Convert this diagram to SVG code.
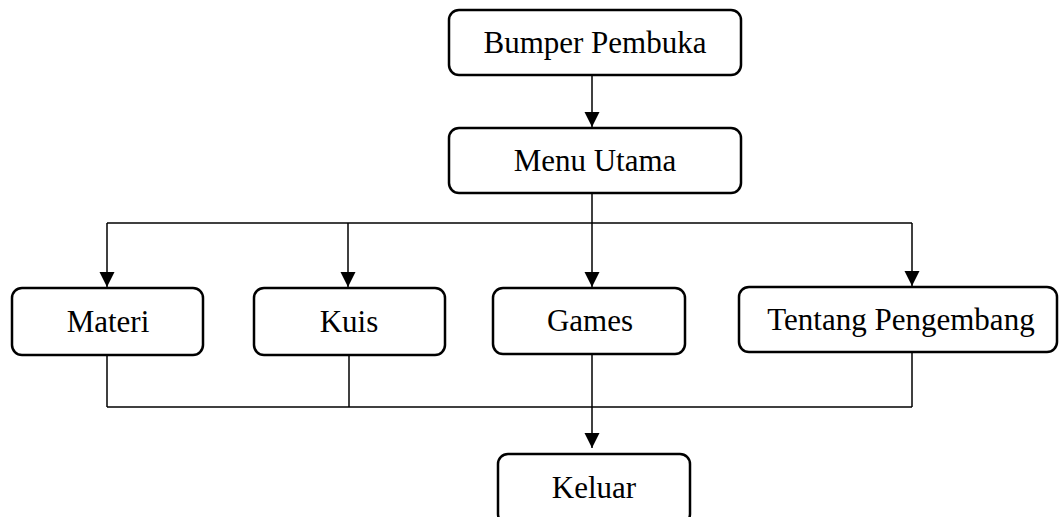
<svg xmlns="http://www.w3.org/2000/svg" width="1059" height="517" viewBox="0 0 1059 517">
<defs>
<marker id="arr" markerWidth="16" markerHeight="16" refX="15" refY="7.5" orient="auto" markerUnits="userSpaceOnUse">
<path d="M0,0 L15,7.5 L0,15 Z" fill="#000"/>
</marker>
<style>
.box{fill:#fff;stroke:#000;stroke-width:2.5}
.lbl{font-family:"Liberation Serif","Times New Roman",serif;font-size:31px;fill:#000;text-anchor:middle}
.ln{fill:none;stroke:#000;stroke-width:1.5}
.ar{fill:none;stroke:#000;stroke-width:1.5;marker-end:url(#arr)}
</style>
</defs>
<rect width="1059" height="517" fill="#fff"/>
<g id="connectors">
<line class="ar" x1="592" y1="75" x2="592" y2="127"/>
<line class="ln" x1="592" y1="193" x2="592" y2="223"/>
<line class="ln" x1="107" y1="223" x2="912" y2="223"/>
<line class="ar" x1="107" y1="223" x2="107" y2="287"/>
<line class="ar" x1="348" y1="223" x2="348" y2="287"/>
<line class="ar" x1="592" y1="223" x2="592" y2="287"/>
<line class="ar" x1="912" y1="223" x2="912" y2="286"/>
<line class="ln" x1="107" y1="355" x2="107" y2="407"/>
<line class="ln" x1="349" y1="355" x2="349" y2="407"/>
<line class="ln" x1="912" y1="352" x2="912" y2="407"/>
<line class="ln" x1="107" y1="407" x2="912" y2="407"/>
<line class="ar" x1="592" y1="354" x2="592" y2="448"/>
</g>
<g id="bumper">
<rect class="box" x="449" y="10" width="292" height="65" rx="10"/>
<text class="lbl" x="595" y="53">Bumper Pembuka</text>
</g>
<g id="menu">
<rect class="box" x="449" y="128" width="292" height="65" rx="10"/>
<text class="lbl" x="595" y="171">Menu Utama</text>
</g>
<g id="materi">
<rect class="box" x="12" y="288" width="191" height="67" rx="10"/>
<text class="lbl" x="108" y="332">Materi</text>
</g>
<g id="kuis">
<rect class="box" x="254" y="288" width="191" height="67" rx="10"/>
<text class="lbl" x="349" y="332">Kuis</text>
</g>
<g id="games">
<rect class="box" x="493" y="288" width="192" height="66" rx="10"/>
<text class="lbl" x="590" y="331">Games</text>
</g>
<g id="tentang">
<rect class="box" x="739" y="287" width="318" height="65" rx="10"/>
<text class="lbl" x="901" y="330">Tentang Pengembang</text>
</g>
<g id="keluar">
<rect class="box" x="498" y="454" width="192" height="70" rx="10"/>
<text class="lbl" x="594" y="498">Keluar</text>
</g>
</svg>
